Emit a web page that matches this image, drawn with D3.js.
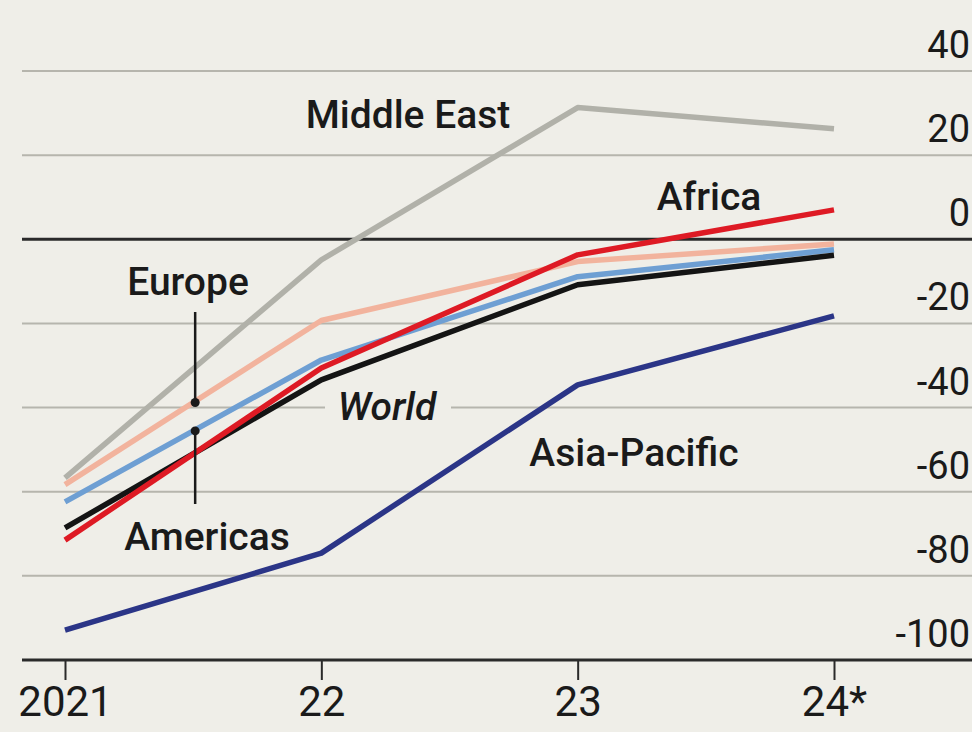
<!DOCTYPE html>
<html>
<head>
<meta charset="utf-8">
<script src="https://cdn.jsdelivr.net/npm/d3@7"></script>
<style>
  html, body { margin: 0; padding: 0; background: #efeee8; }
  svg { display: block; }
  text { font-family: Roboto, "Liberation Sans", sans-serif; fill: #1a1a1a; }
</style>
</head>
<body>
<svg id="chart" width="972" height="732"></svg>
<script>
// Years on the x axis
const years = ["2021", "22", "23", "24*"];

// % change by region
const middleEast  = [-56.7, -4.9, 31.3, 26.3];
const europe      = [-58.3, -19.3, -5.3, -1.1];
const americas    = [-62.4, -28.7, -8.9, -2.5];
const world       = [-68.6, -33.4, -10.8, -3.8];
const africa      = [-71.5, -30.6, -3.7, 7.0];
const asiaPacific = [-92.9, -74.6, -34.6, -18.2];

// Right-hand axis ticks
const yTicks = [40, 20, 0, -20, -40, -60, -80, -100];

const series = [
  { name: "Middle East",  values: middleEast,  color: "#b1b1a9" },
  { name: "Europe",       values: europe,      color: "#f2b39d" },
  { name: "Americas",     values: americas,    color: "#6e9fd3" },
  { name: "World",        values: world,       color: "#141414" },
  { name: "Africa",       values: africa,      color: "#de1a24" },
  { name: "Asia-Pacific", values: asiaPacific, color: "#2b3587" }
];

const svg = d3.select("#chart");
const W = 972;
const left = 22;

const x = d3.scalePoint().domain(years).range([65, 834]);
const y = d3.scaleLinear().domain([-100, 40]).range([660, 71]);

// Gridlines
svg.append("g").selectAll("line")
  .data(yTicks.filter(v => v !== 0 && v !== -100))
  .join("line")
  .attr("x1", left).attr("x2", W)
  .attr("y1", d => y(d)).attr("y2", d => y(d))
  .attr("stroke", "#b6b5ad").attr("stroke-width", 2);

// Zero line
svg.append("line")
  .attr("x1", left).attr("x2", W)
  .attr("y1", y(0)).attr("y2", y(0))
  .attr("stroke", "#2a2a2a").attr("stroke-width", 3);

// Y tick labels, right aligned above their gridlines
svg.append("g").selectAll("text")
  .data(yTicks)
  .join("text")
  .attr("x", 970)
  .attr("y", d => y(d) - 13)
  .attr("text-anchor", "end")
  .attr("font-size", 38)
  .text(d => d);

// X axis
const xAxis = svg.append("g")
  .attr("transform", `translate(0,${y(-100)})`)
  .call(d3.axisBottom(x).tickSize(20).tickPadding(6));
xAxis.select(".domain").remove();
xAxis.selectAll(".tick line").attr("stroke", "#2a2a2a").attr("stroke-width", 2);
xAxis.selectAll(".tick text")
  .attr("font-size", 42)
  .attr("fill", "#1a1a1a")
  .attr("font-family", "Roboto, \"Liberation Sans\", sans-serif");
svg.append("line")
  .attr("x1", left).attr("x2", W)
  .attr("y1", y(-100)).attr("y2", y(-100))
  .attr("stroke", "#2a2a2a").attr("stroke-width", 3);

// Backing box behind the World label so the gridline breaks there
svg.append("rect")
  .attr("x", 325).attr("y", y(-40) - 22)
  .attr("width", 126).attr("height", 40)
  .attr("fill", "#efeee8");

// Lines
const line = d3.line()
  .x((d, i) => x(years[i]))
  .y(d => y(d));

svg.append("g").selectAll("path")
  .data(series)
  .join("path")
  .attr("d", d => line(d.values))
  .attr("fill", "none")
  .attr("stroke", d => d.color)
  .attr("stroke-width", 5.5)
  .attr("stroke-linejoin", "round");

// Leader lines for Europe and Americas, halfway between 2021 and 2022
const xm = (x(years[0]) + x(years[1])) / 2 + 2;
const atMid = v => y((v[0] + v[1]) / 2);

svg.append("line")
  .attr("x1", xm).attr("x2", xm)
  .attr("y1", 312).attr("y2", atMid(europe))
  .attr("stroke", "#1a1a1a").attr("stroke-width", 2.5);
svg.append("circle")
  .attr("cx", xm).attr("cy", atMid(europe)).attr("r", 4.5).attr("fill", "#1a1a1a");

svg.append("line")
  .attr("x1", xm).attr("x2", xm)
  .attr("y1", atMid(americas)).attr("y2", 504)
  .attr("stroke", "#1a1a1a").attr("stroke-width", 2.5);
svg.append("circle")
  .attr("cx", xm).attr("cy", atMid(americas)).attr("r", 4.5).attr("fill", "#1a1a1a");

// Series labels
const labels = [
  { text: "Middle East",  x: 408, y: 128, italic: false },
  { text: "Africa",       x: 709, y: 210, italic: false },
  { text: "Europe",       x: 188, y: 295, italic: false },
  { text: "World",        x: 387, y: 420, italic: true },
  { text: "Asia-Pacific", x: 634, y: 466, italic: false },
  { text: "Americas",     x: 207, y: 550, italic: false }
];

svg.append("g").selectAll("text")
  .data(labels)
  .join("text")
  .attr("x", d => d.x)
  .attr("y", d => d.y)
  .attr("text-anchor", "middle")
  .attr("font-size", 39)
  .attr("font-weight", 500)
  .attr("font-style", d => d.italic ? "italic" : "normal")
  .text(d => d.text);
</script>
</body>
</html>
